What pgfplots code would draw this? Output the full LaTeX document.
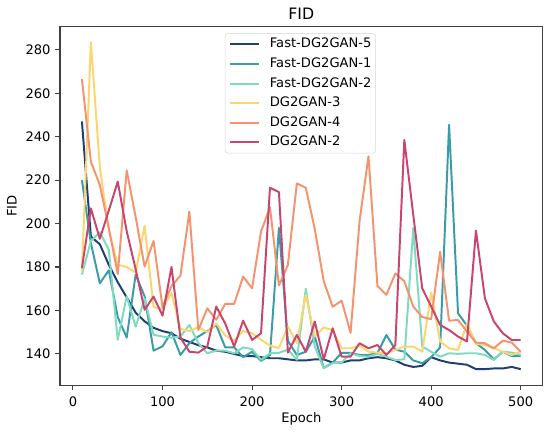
\documentclass[border=0pt]{standalone}
\usepackage{fontspec}
\setmainfont{DejaVu Sans}
\usepackage{pgfplots}
\pgfplotsset{compat=1.18}
\definecolor{cnavy}{HTML}{1E3F6F}
\definecolor{cteal}{HTML}{3A9CA8}
\definecolor{cmint}{HTML}{7FDBC0}
\definecolor{cyellow}{HTML}{FCD56F}
\definecolor{csalmon}{HTML}{F5936F}
\definecolor{ccrimson}{HTML}{C8456E}
\definecolor{cspine}{HTML}{404040}
\definecolor{clegframe}{HTML}{D6D6D6}
\begin{document}
\begin{tikzpicture}
\path (-45.8pt,-36.9pt) rectangle (374.1pt,294.4pt);
\begin{axis}[
  at={(0,0)}, anchor=south west,
  scale only axis, width=368.5pt, height=274.1pt,
  xmin=-14.5, xmax=524.5, ymin=125.4, ymax=290.7,
  xtick={0,100,...,500}, ytick={140,160,...,280},
  tick align=outside, major tick length=3.5pt,
  tick style={draw=cspine, line width=0.8pt},
  axis line style={draw=cspine, line width=0.8pt},
  xtick pos=lower, ytick pos=lower,
  font=\fontsize{10}{12}\selectfont,
  /pgf/number format/assume math mode=true,
  /pgf/number format/1000 sep={},
  xticklabel style={inner xsep=0pt, inner ysep=5pt, text height=7.3pt},
  yticklabel style={inner xsep=3.5pt, inner ysep=0pt},
  every axis title shift=0pt,
  title={FID},
  title style={font=\fontsize{12}{14}\selectfont, at={(axis description cs:0.5,1.0206)}, anchor=base, inner sep=0pt},
  xlabel={Epoch},
  xlabel style={at={(axis description cs:0.5,-0.1025)}, anchor=base, inner sep=0pt},
  ylabel={FID},
  ylabel style={at={(axis description cs:-0.0898,0.5)}, anchor=base, inner sep=0pt},
  legend cell align=left,
  legend style={at={(axis description cs:0.3418,0.9813)}, anchor=north west,
    draw=clegframe, rounded corners=2pt, fill=white,
    inner xsep=3pt, inner ysep=3.5pt, row sep=5.7pt,
    nodes={inner sep=0pt, text height=7.3pt, text depth=2pt},
    /tikz/every odd column/.append style={column sep=7.6pt},
    /tikz/every even column/.append style={column sep=0pt}},
  legend image code/.code={\draw[#1, line width=1.5pt] (0pt,0pt) -- (22pt,0pt);},
  every axis plot/.append style={line width=1.5pt, line join=round},
  after end axis/.code={
    \draw[cspine, line width=0.8pt] (rel axis cs:0,0) rectangle (rel axis cs:1,1);
    \foreach \t in {0,100,...,500} {\draw[cspine, line width=0.8pt] (axis cs:\t,125.4) -- ++(0pt,-3.5pt);}
    \foreach \t in {140,160,...,280} {\draw[cspine, line width=0.8pt] (axis cs:-14.5,\t) -- ++(-3.5pt,0pt);}
  },
]
\addplot[cnavy] coordinates {(10,247)(20,194)(30,190.5)(40,181)(50,173)(60,166)(70,159)(80,155)(90,152)(100,150.5)(110,149.5)(120,147)(130,145.5)(140,144)(150,143)(160,141.5)(170,141)(180,140)(190,139)(200,139)(210,138.5)(220,138)(230,138)(240,137.5)(250,137)(260,137)(270,137.5)(280,137.5)(290,136)(300,136)(310,137)(320,137)(330,138)(340,138.5)(350,138)(360,137)(370,135)(380,134)(390,134.5)(400,138.5)(410,137)(420,136)(430,135.5)(440,135)(450,133)(460,133)(470,133.3)(480,133.3)(490,134)(500,133)};
\addlegendentry{Fast-DG2GAN-5}
\addplot[cteal] coordinates {(10,220)(20,191)(30,172.5)(40,178.5)(50,157)(60,147.5)(70,176.5)(80,166.5)(90,141.5)(100,143.5)(110,150)(120,139.5)(130,145)(140,148)(150,150.5)(160,153.3)(170,143)(180,143)(190,138.5)(200,141)(210,136.8)(220,139.5)(230,198)(240,146)(250,139.5)(260,141)(270,148)(280,133.5)(290,136)(300,140.5)(310,140.5)(320,139.5)(330,139.5)(340,140.4)(350,148.7)(360,142)(370,141)(380,137)(390,135.7)(400,138.5)(410,143)(420,245.5)(430,158.7)(440,153)(450,145)(460,141.8)(470,137.5)(480,141)(490,139)(500,139)};
\addlegendentry{Fast-DG2GAN-1}
\addplot[cmint] coordinates {(10,176.5)(20,192)(30,196)(40,188)(50,146.5)(60,166.5)(70,152.5)(80,165.5)(90,148.8)(100,148)(110,147.5)(120,148)(130,153.3)(140,145)(150,140.3)(160,141.5)(170,141.5)(180,140.3)(190,143)(200,142.2)(210,137.3)(220,140.3)(230,140.5)(240,141.9)(250,137.3)(260,170)(270,143.4)(280,133.4)(290,135.7)(300,136)(310,140.3)(320,139)(330,138.7)(340,140)(350,138.7)(360,137.2)(370,137.5)(380,198)(390,143.4)(400,141)(410,138.7)(420,140.3)(430,140)(440,140.3)(450,140.3)(460,139.5)(470,137.2)(480,141)(490,140.6)(500,139.5)};
\addlegendentry{Fast-DG2GAN-2}
\addplot[cyellow] coordinates {(10,178)(20,283.5)(30,226)(40,197)(50,181)(60,180)(70,177.5)(80,199)(90,161.5)(100,160.8)(110,168)(120,151.5)(130,150.5)(140,152.3)(150,150)(160,154)(170,148.5)(180,146)(190,150.5)(200,149.5)(210,146.5)(220,143.8)(230,142.7)(240,152.6)(250,145)(260,167.2)(270,148)(280,152.1)(290,151)(300,142.6)(310,142.6)(320,143.7)(330,141)(340,140.6)(350,140.3)(360,141.8)(370,143.4)(380,143.4)(390,141)(400,168.2)(410,145.7)(420,142.6)(430,141.8)(440,154.1)(450,144.6)(460,144.1)(470,142.6)(480,141)(490,139.5)(500,141)};
\addlegendentry{DG2GAN-3}
\addplot[csalmon] coordinates {(10,266.5)(20,228.5)(30,217.8)(40,198)(50,176.7)(60,224.5)(70,203)(80,180.2)(90,192)(100,161.5)(110,171.3)(120,176)(130,205.5)(140,151)(150,161)(160,155.7)(170,163)(180,163)(190,175.6)(200,170.2)(210,196.3)(220,207.5)(230,171.5)(240,181)(250,218.5)(260,216.5)(270,197.5)(280,173.5)(290,161.7)(300,164.5)(310,149.7)(320,201)(330,231)(340,171.3)(350,167.2)(360,177)(370,173.5)(380,161.8)(390,157)(400,156)(410,187)(420,155.3)(430,155.6)(440,150.3)(450,145.2)(460,144.9)(470,142.6)(480,146.1)(490,145.2)(500,141)};
\addlegendentry{DG2GAN-4}
\addplot[ccrimson] coordinates {(10,179.5)(20,207)(30,193)(40,206)(50,219.3)(60,196.5)(70,179)(80,160.3)(90,166.4)(100,157.6)(110,180)(120,147.5)(130,141)(140,140.6)(150,143.4)(160,161.8)(170,154)(180,143.4)(190,155.3)(200,146.4)(210,149.5)(220,216.5)(230,214.5)(240,140.6)(250,148.7)(260,141)(270,154.9)(280,137.5)(290,151.8)(300,138.7)(310,138.7)(320,144.9)(330,142.6)(340,144.1)(350,139.5)(360,144.1)(370,238.5)(380,204)(390,170.2)(400,161.8)(410,153.3)(420,151)(430,148)(440,145.7)(450,196.8)(460,165.6)(470,154.9)(480,149.5)(490,146.4)(500,146.4)};
\addlegendentry{DG2GAN-2}
\end{axis}
\end{tikzpicture}
\end{document}
